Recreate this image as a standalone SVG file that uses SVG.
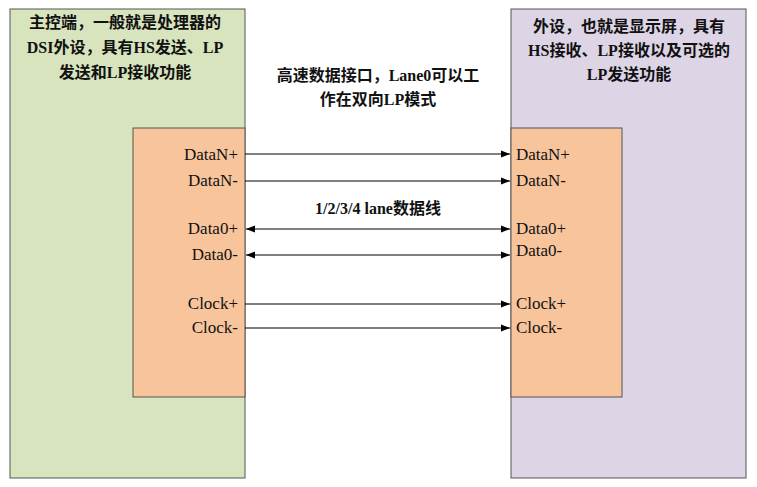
<svg xmlns="http://www.w3.org/2000/svg" width="757" height="487" viewBox="0 0 757 487">
<style>
text{font-family:"Liberation Serif","Noto Sans CJK SC",serif;font-size:16px;fill:#111}
.t{font-weight:bold;text-anchor:middle}
.p{font-size:17px}
.l{text-anchor:end}
.c{stroke:#000;stroke-width:1.2;fill:none}
</style>
<defs>
<marker id="a" viewBox="0 0 10 10" refX="10" refY="5" markerWidth="10" markerHeight="9" orient="auto-start-reverse" markerUnits="userSpaceOnUse"><path d="M0,1L10,5L0,9z" fill="#000"/></marker>
</defs>
<rect width="757" height="487" fill="#fff"/>
<g id="host">
<rect x="10" y="9" width="235" height="469" fill="#d7e4bd" stroke="#555"/>
<text class="t" x="125" y="28">主控端，一般就是处理器的</text>
<text class="t" x="125" y="53">DSI外设，具有HS发送、LP</text>
<text class="t" x="125" y="78">发送和LP接收功能</text>
</g>
<g id="host-port">
<rect x="133" y="128" width="112" height="269" fill="#f8c49b" stroke="#555"/>
<text class="l p" x="238" y="160">DataN+</text>
<text class="l p" x="238" y="186">DataN-</text>
<text class="l p" x="238" y="234">Data0+</text>
<text class="l p" x="238" y="260">Data0-</text>
<text class="l p" x="238" y="309">Clock+</text>
<text class="l p" x="238" y="333">Clock-</text>
</g>
<g id="device">
<rect x="511" y="9" width="235" height="469" fill="#ddd5e6" stroke="#555"/>
<text class="t" x="629" y="32">外设，也就是显示屏，具有</text>
<text class="t" x="629" y="56">HS接收、LP接收以及可选的</text>
<text class="t" x="629" y="80">LP发送功能</text>
</g>
<g id="device-port">
<rect x="511" y="128" width="111" height="269" fill="#f8c49b" stroke="#555"/>
<text class="p" x="516" y="160">DataN+</text>
<text class="p" x="516" y="186">DataN-</text>
<text class="p" x="516" y="234">Data0+</text>
<text class="p" x="516" y="256">Data0-</text>
<text class="p" x="516" y="309">Clock+</text>
<text class="p" x="516" y="333">Clock-</text>
</g>
<g id="labels">
<text class="t" x="378" y="81">高速数据接口，Lane0可以工</text>
<text class="t" x="378" y="105">作在双向LP模式</text>
<text class="t" x="378" y="214">1/2/3/4 lane数据线</text>
</g>
<g id="connectors">
<line class="c" x1="245" y1="154" x2="510" y2="154" marker-end="url(#a)"/>
<line class="c" x1="245" y1="181" x2="510" y2="181" marker-end="url(#a)"/>
<line class="c" x1="246" y1="229" x2="510" y2="229" marker-start="url(#a)" marker-end="url(#a)"/>
<line class="c" x1="246" y1="255" x2="510" y2="255" marker-start="url(#a)" marker-end="url(#a)"/>
<line class="c" x1="245" y1="304" x2="510" y2="304" marker-end="url(#a)"/>
<line class="c" x1="245" y1="328" x2="510" y2="328" marker-end="url(#a)"/>
</g>
</svg>
